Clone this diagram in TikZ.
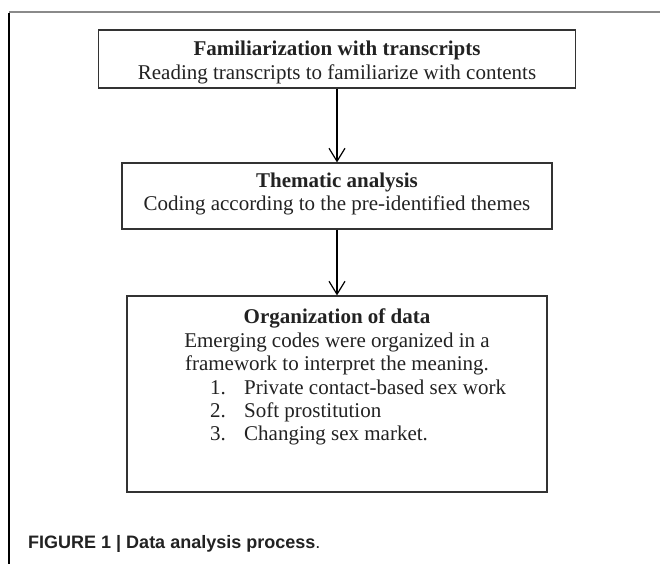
\documentclass[tikz,border=0pt]{standalone}
\usepackage{fontspec}
\setmainfont{Liberation Serif}
\newfontfamily\capfont{Liberation Sans}
\usetikzlibrary{arrows.meta}
\definecolor{ink}{HTML}{222222}
\definecolor{boxline}{HTML}{333333}
\definecolor{frametop}{HTML}{8A8A8A}
\begin{document}
\begin{tikzpicture}[x=1pt,y=-1pt,
  box/.style={draw=boxline,line width=1.2pt,inner sep=0pt,fill=white},
  txt/.style={anchor=base,inner sep=0pt,text=ink,font=\fontsize{21}{24}\selectfont},
  ttl/.style={txt,font=\fontsize{21}{24}\selectfont\bfseries},
  lst/.style={txt,anchor=base west},
  arr/.style={draw=black,line width=1.2pt,-{Straight Barb[length=13pt,width=16pt,line width=1.2pt]}},
  captext/.style={anchor=base west,inner sep=0pt,text=ink,font=\capfont\fontsize{18}{20}\selectfont\bfseries}]
\useasboundingbox (0,0) rectangle (660,564);
\fill[white] (0,0) rectangle (660,564);
% frame
\coordinate (fc) at (9,12);
\coordinate (fr) at (660,12);
\coordinate (fb) at (9,564);
\draw[frametop,line width=1.5pt] (fc) -- (fr);
\draw[black,line width=1.5pt] ([yshift=-0.75pt]fc) -- (fb);
% boxes
\node[box,minimum width=477pt,minimum height=58pt] (b1) at (337,59) {};
\node[box,minimum width=430pt,minimum height=66pt] (b2) at (337,196) {};
\node[box,minimum width=420pt,minimum height=196pt] (b3) at (337,394) {};
% arrows
\draw[arr] (b1.south) -- (b2.north);
\draw[arr] (b2.south) -- (b3.north);
% box 1 text
\node[ttl] (t1) at (337,56) {Familiarization with transcripts};
\node[txt] (s1) at (337,80) {Reading transcripts to familiarize with contents};
% box 2 text
\node[ttl] (t2) at (337,187) {Thematic analysis};
\node[txt] (s2) at (337,210) {Coding according to the pre-identified themes};
% box 3 text
\node[ttl] (t3) at (337,323) {Organization of data};
\node[txt] (s3a) at (337,347) {Emerging codes were organized in a};
\node[txt] (s3b) at (337,370) {framework to interpret the meaning.};
\node[lst] (n1) at (210,394) {1.};
\node[lst] (i1) at (244,394) {Private contact-based sex work};
\node[lst] (n2) at (210,417) {2.};
\node[lst] (i2) at (244,417) {Soft prostitution};
\node[lst] (n3) at (210,440) {3.};
\node[lst] (i3) at (244,440) {Changing sex market.};
% caption
\node[captext] (capt) at (28,548) {FIGURE 1 | Data analysis process\textmd{.}};
\end{tikzpicture}
\end{document}
